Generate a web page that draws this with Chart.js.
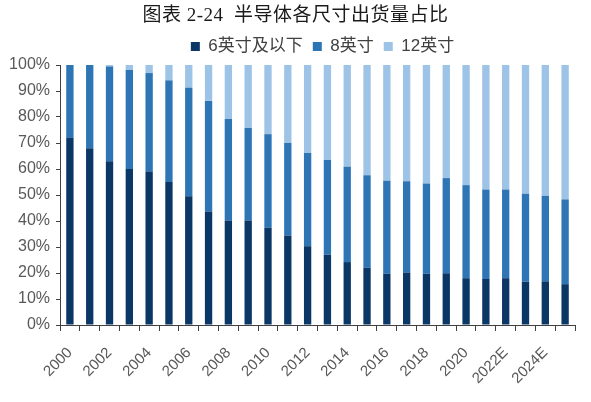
<!DOCTYPE html>
<html>
<head>
<meta charset="utf-8">
<script src="https://cdn.jsdelivr.net/npm/chart.js@4"></script>
<style>
  html, body { margin: 0; padding: 0; background: #fff; }
  #wrap { width: 591px; height: 402px; position: relative; }
  #title {
    position: absolute; top: 4px; left: 0; width: 591px;
    text-align: center; line-height: 22px;
    font-family: "Liberation Serif", "Noto Sans CJK SC", serif;
    font-size: 19px; letter-spacing: 0.5px; color: #1a1a1a; white-space: pre;
  }
</style>
</head>
<body>
<div id="wrap">
  <div id="title">图表 2-24  半导体各尺寸出货量占比</div>
  <canvas id="chart"></canvas>
</div>
<script>
// 年份
const years = ['2000', '2001', '2002', '2003', '2004', '2005', '2006', '2007', '2008', '2009',
    '2010', '2011', '2012', '2013', '2014', '2015', '2016', '2017', '2018', '2019',
    '2020', '2021E', '2022E', '2023E', '2024E', '2025E'];

// 各尺寸占比 (%)
const inch6 = [72, 68, 63, 60, 59, 55, 49.5, 43.7, 40.2, 40.2, 37.4, 34.4, 30.3, 27, 24.2, 22,
    19.7, 20.2, 19.7, 19.9, 18, 17.7, 18, 16.7, 16.8, 15.7];
const inch8 = [28, 32, 36.4, 38.1, 37.9, 39.1, 41.8, 42.5, 39, 35.6, 36, 35.6, 35.9, 36.5, 36.7, 35.6,
    35.8, 35.1, 34.7, 36.6, 35.8, 34.4, 34.1, 33.8, 32.9, 32.6];
const inch12 = [0, 0, 0.6, 1.9, 3.1, 5.9, 8.7, 13.8, 20.8, 24.2, 26.6, 30, 33.8, 36.5, 39.1, 42.4,
    44.5, 44.7, 45.6, 43.5, 46.2, 47.9, 47.9, 49.5, 50.3, 51.7];

const seriesNames = ['6英寸及以下', '8英寸', '12英寸'];
const yTicks = [0, 10, 20, 30, 40, 50, 60, 70, 80, 90, 100];

const FONT_LATIN = 'Arial, "Liberation Sans", "Noto Sans CJK SC", sans-serif';
const AXIS_COLOR = '#404040';

// 图例在原图中略偏右, 布局完成后整体平移
const legendShift = {
    id: 'legendShift',
    afterLayout(chart) {
        const lg = chart.legend;
        if (!lg) return;
        lg.left += 28;
        lg.right += 28;
    }
};

new Chart(document.getElementById('chart'), {
    type: 'bar',
    data: {
        labels: years,
        datasets: [
            { label: seriesNames[0], data: inch6, backgroundColor: '#0b3766' },
            { label: seriesNames[1], data: inch8, backgroundColor: '#2e75b6' },
            { label: seriesNames[2], data: inch12, backgroundColor: '#9dc3e6' }
        ]
    },
    plugins: [legendShift],
    options: {
        responsive: true,
        maintainAspectRatio: false,
        animation: false,
        layout: { padding: { left: 6, right: 8, top: 28, bottom: 0 } },
        datasets: { bar: { barPercentage: 0.37, categoryPercentage: 1 } },
        plugins: {
            title: { display: false },
            legend: {
                display: true,
                position: 'top',
                labels: {
                    boxWidth: 9,
                    boxHeight: 9,
                    padding: 10,
                    color: '#404040',
                    font: { family: FONT_LATIN, size: 17 }
                }
            },
            tooltip: { enabled: false }
        },
        scales: {
            x: {
                stacked: true,
                grid: { display: true, offset: true, drawOnChartArea: false, drawTicks: true, tickLength: 6, color: AXIS_COLOR },
                border: { display: true, color: AXIS_COLOR, width: 1 },
                ticks: {
                    autoSkip: false,
                    maxRotation: 45,
                    minRotation: 45,
                    padding: 13,
                    color: '#595959',
                    font: { family: FONT_LATIN, size: 15 },
                    callback: (v, i) => (i % 2 === 0 ? years[i] : '')
                },
                afterFit: (scale) => { scale.height = 77; }
            },
            y: {
                stacked: true,
                min: 0,
                max: 100,
                afterBuildTicks: (scale) => { scale.ticks = yTicks.map(v => ({ value: v })); },
                grid: { display: true, drawOnChartArea: false, drawTicks: true, tickLength: 4, color: AXIS_COLOR },
                border: { display: true, color: AXIS_COLOR, width: 1 },
                ticks: {
                    color: '#595959',
                    padding: 6,
                    font: { family: FONT_LATIN, size: 16 },
                    callback: (v) => v + '%'
                },
                afterFit: (scale) => { scale.width = 54; }
            }
        }
    }
});
</script>
</body>
</html>
